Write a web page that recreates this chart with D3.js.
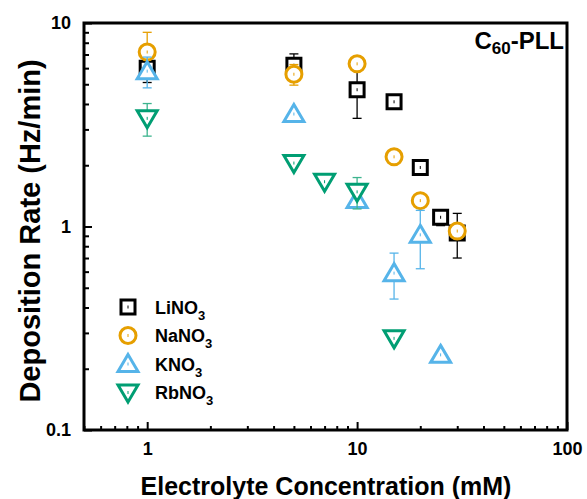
<!DOCTYPE html>
<html>
<head>
<meta charset="utf-8">
<script src="https://d3js.org/d3.v7.min.js"></script>
<style>
  html, body { margin: 0; padding: 0; background: #fff; }
  svg { display: block; font-family: "Liberation Sans", Arial, sans-serif; font-weight: bold; }
</style>
</head>
<body>
<svg id="chart" width="587" height="499"></svg>
<script>
// Deposition rate of C60-PLL vs. electrolyte concentration, per salt
const liConc = [1, 5, 10, 15, 20, 25, 30];
const liRate = [6.0, 6.2, 4.7, 4.1, 1.95, 1.11, 0.93];
const liErr  = [0.9, 0.85, 1.3, 0, 0.1, 0.1, 0.23];

const naConc = [1, 5, 10, 15, 20, 30];
const naRate = [7.2, 5.6, 6.3, 2.2, 1.34, 0.95];
const naErr  = [1.8, 0.65, 0, 0, 0, 0];

const kConc = [1, 5, 10, 15, 20, 25];
const kRate = [5.8, 3.57, 1.35, 0.59, 0.91, 0.234];
const kErr  = [1.0, 0, 0, 0.15, 0.29, 0];

const rbConc = [1, 5, 7, 10, 15];
const rbRate = [3.4, 2.05, 1.66, 1.48, 0.282];
const rbErr  = [0.62, 0, 0, 0.26, 0];

const seriesNames = ["LiNO", "NaNO", "KNO", "RbNO"];
const xTickValues = [1, 10, 100];
const yTickValues = [0.1, 1, 10];

const series = [
  { name: seriesNames[0], conc: liConc, rate: liRate, err: liErr, shape: "square",  color: "#000000", errColor: "#000000" },
  { name: seriesNames[1], conc: naConc, rate: naRate, err: naErr, shape: "circle",  color: "#E69F00", errColor: "#E69F00" },
  { name: seriesNames[2], conc: kConc,  rate: kRate,  err: kErr,  shape: "triUp",   color: "#56B4E9", errColor: "#56B4E9" },
  { name: seriesNames[3], conc: rbConc, rate: rbRate, err: rbErr, shape: "triDown", color: "#009E73", errColor: "#3DB48E" }
];

const svg = d3.select("#chart");
const m = { left: 84, top: 23, right: 567, bottom: 430 };

const x = d3.scaleLog().domain([0.5, 100]).range([m.left, m.right]);
const y = d3.scaleLog().domain([0.1, 10]).range([m.bottom, m.top]);

// marker path generators, centred at 0,0
function markerPath(shape) {
  if (shape === "square") return "M-7,-7H7V7H-7Z";
  if (shape === "circle") return "M8,0A8,8 0 1,1 -8,0A8,8 0 1,1 8,0Z";
  if (shape === "triUp") return "M0,-9.5L10,7.5L-10,7.5Z";
  return "M0,9.5L10,-7.5L-10,-7.5Z";
}

// minor tick values
const xMinor = [0.5, 0.6, 0.7, 0.8, 0.9, 2, 3, 4, 5, 6, 7, 8, 9, 20, 30, 40, 50, 60, 70, 80, 90];
const yMinor = [];
[0.1, 1].forEach(d => { for (let k = 2; k <= 9; k++) yMinor.push(+(d * k).toFixed(2)); });

// axes: ticks point inward
const gx = svg.append("g").attr("transform", `translate(0,${m.bottom})`);
gx.call(d3.axisBottom(x).tickValues(xTickValues).tickFormat(d3.format("d")).tickSize(-8).tickPadding(12));
const gxm = svg.append("g").attr("transform", `translate(0,${m.bottom})`);
gxm.call(d3.axisBottom(x).tickValues(xMinor).tickFormat("").tickSize(-4));

const gy = svg.append("g").attr("transform", `translate(${m.left},0)`);
gy.call(d3.axisLeft(y).tickValues(yTickValues).tickFormat(d => d < 1 ? "0.1" : d3.format("d")(d)).tickSize(-8).tickPadding(13));
const gym = svg.append("g").attr("transform", `translate(${m.left},0)`);
gym.call(d3.axisLeft(y).tickValues(yMinor).tickFormat("").tickSize(-5));

svg.selectAll(".domain").remove();
svg.selectAll(".tick line").attr("stroke", "#000").attr("stroke-width", 2);
svg.selectAll(".tick text").attr("font-size", 18).attr("font-weight", "bold").attr("fill", "#000")
  .attr("font-family", "'Liberation Sans', Arial, sans-serif");

// frame
svg.append("rect")
  .attr("x", m.left).attr("y", m.top)
  .attr("width", m.right - m.left).attr("height", m.bottom - m.top)
  .attr("fill", "none").attr("stroke", "#000").attr("stroke-width", 3);

// data
series.forEach(s => {
  const g = svg.append("g");
  const pts = s.conc.map((c, i) => ({ c, r: s.rate[i], e: s.err[i] }));
  // error bars
  pts.filter(p => p.e > 0).forEach(p => {
    const cx = x(p.c), y1 = y(p.r + p.e), y2 = y(p.r - p.e);
    g.append("line").attr("x1", cx).attr("x2", cx).attr("y1", y1).attr("y2", y2)
      .attr("stroke", s.errColor).attr("stroke-width", 1.3);
    [y1, y2].forEach(yy => g.append("line").attr("x1", cx - 4.5).attr("x2", cx + 4.5)
      .attr("y1", yy).attr("y2", yy).attr("stroke", s.errColor).attr("stroke-width", 1.3));
  });
  // markers
  pts.forEach(p => {
    const mg = g.append("g").attr("transform", `translate(${x(p.c)},${y(p.r)})`);
    mg.append("path").attr("d", markerPath(s.shape))
      .attr("fill", "#fff").attr("stroke", s.color).attr("stroke-width", 3)
      .attr("stroke-linejoin", "miter");
    mg.append("line").attr("x1", 0).attr("x2", 0).attr("y1", -1.5).attr("y2", 1.5)
      .attr("stroke", s.color).attr("stroke-width", 1);
  });
});

// legend
const legend = svg.append("g");
series.forEach((s, i) => {
  const ly = 307 + i * 28.5;
  const mg = legend.append("g").attr("transform", `translate(128,${ly})`);
  mg.append("path").attr("d", markerPath(s.shape))
    .attr("fill", "#fff").attr("stroke", s.color).attr("stroke-width", 3);
  mg.append("line").attr("x1", 0).attr("x2", 0).attr("y1", -1.5).attr("y2", 1.5)
    .attr("stroke", s.color).attr("stroke-width", 1);
  const t = legend.append("text").attr("x", 155).attr("y", ly + 6.5)
    .attr("font-size", 18).attr("fill", "#000");
  t.append("tspan").text(s.name);
  t.append("tspan").attr("dy", 6).attr("font-size", 13).text("3");
});

// panel label
const title = svg.append("text").attr("x", 564).attr("y", 49)
  .attr("text-anchor", "end").attr("font-size", 24).attr("fill", "#000");
title.append("tspan").text("C");
title.append("tspan").attr("dy", 5).attr("font-size", 17).text("60");
title.append("tspan").attr("dy", -5).text("-PLL");

// axis titles
svg.append("text").attr("x", 326).attr("y", 495)
  .attr("text-anchor", "middle").attr("font-size", 25).attr("fill", "#000")
  .text("Electrolyte Concentration (mM)");
svg.append("text").attr("transform", "translate(40,231) rotate(-90)")
  .attr("text-anchor", "middle").attr("font-size", 29).attr("fill", "#000")
  .text("Deposition Rate (Hz/min)");
</script>
</body>
</html>
